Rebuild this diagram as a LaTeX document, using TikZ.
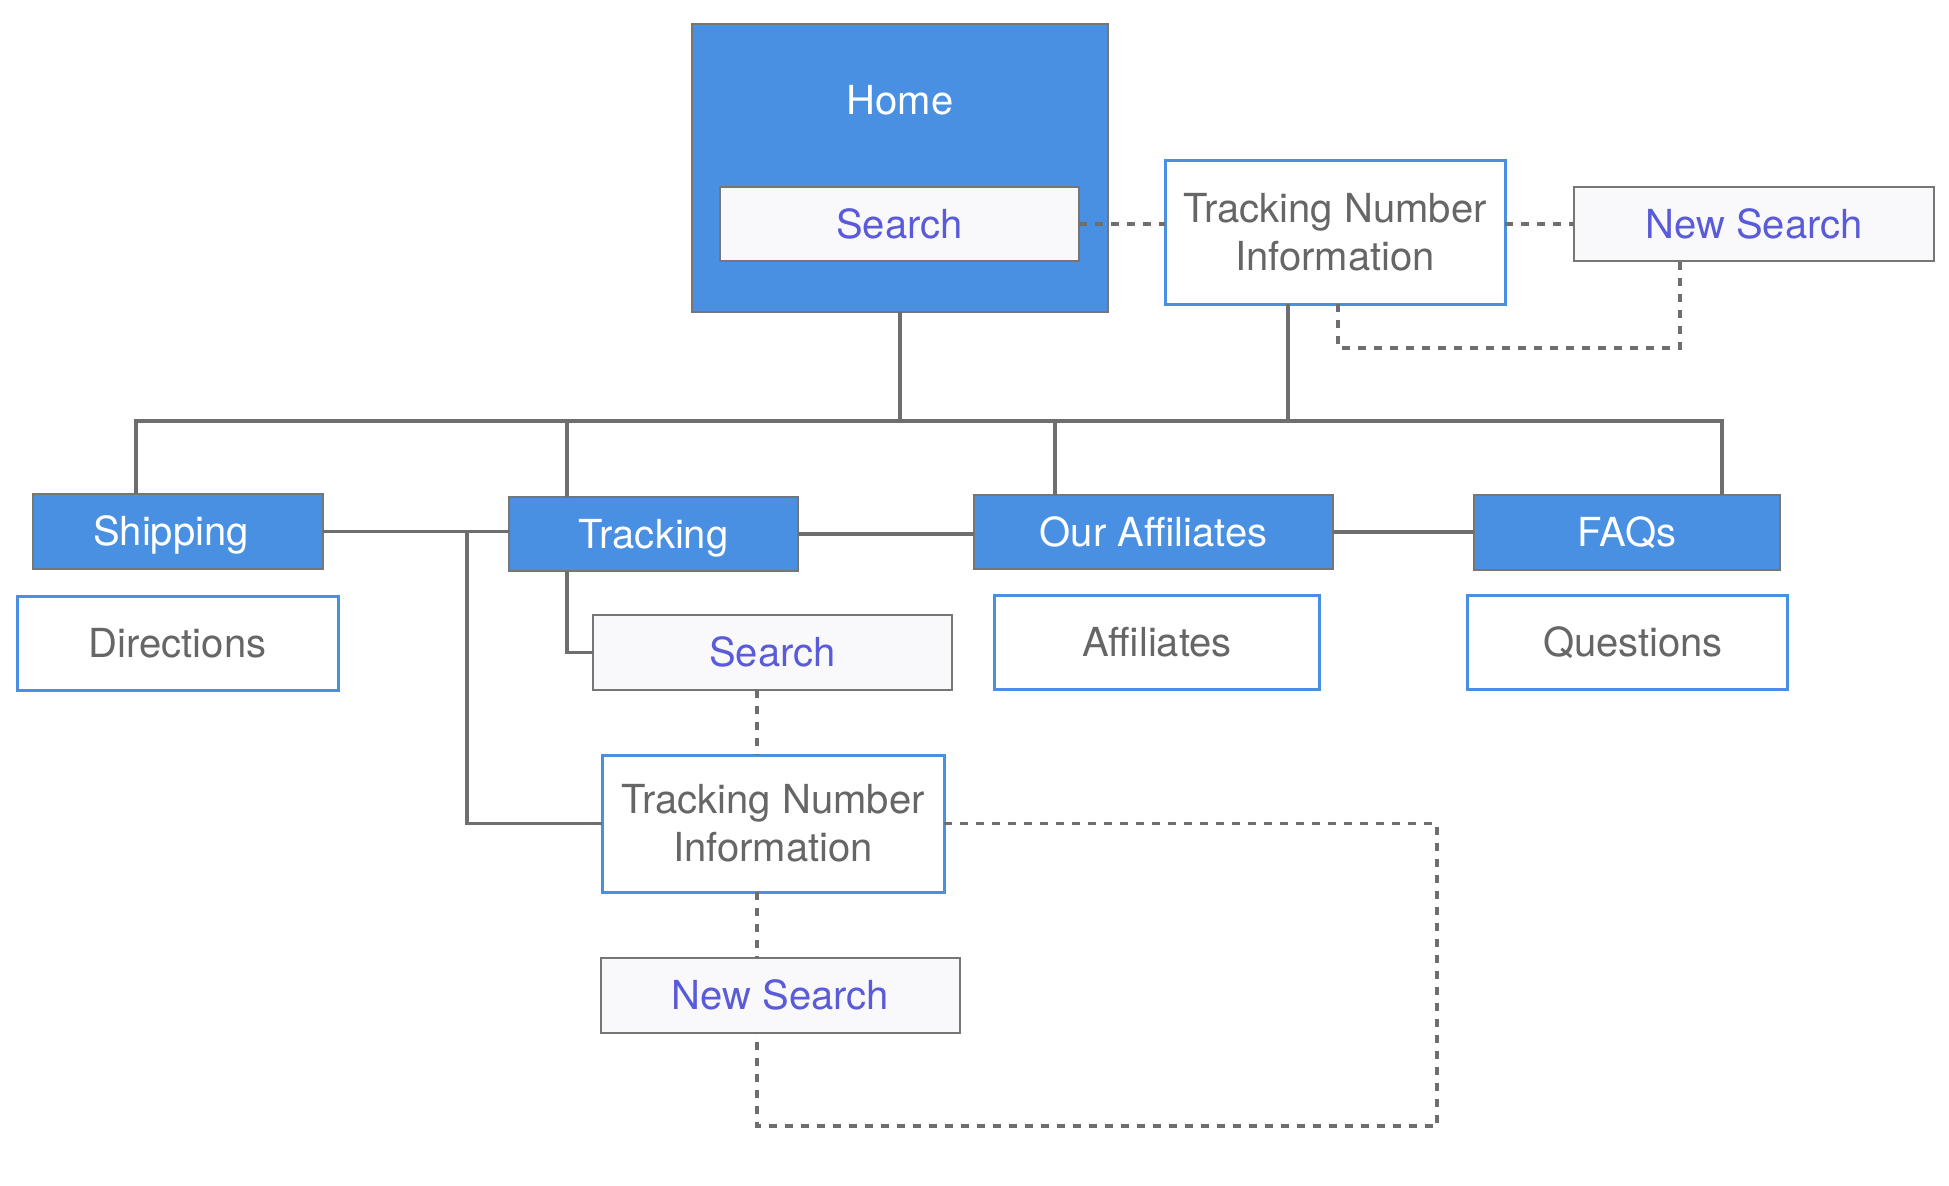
\documentclass[tikz,border=0pt]{standalone}
\usepackage{fontspec}
\setmainfont{TeX Gyre Heros}
\usetikzlibrary{calc}
\definecolor{blueF}{HTML}{4A90E2}
\definecolor{lineG}{HTML}{6E6E6E}
\definecolor{borderG}{HTML}{767676}
\definecolor{txtG}{HTML}{666666}
\definecolor{purp}{HTML}{5A5BD8}
\definecolor{lightF}{HTML}{F9F9FB}
\begin{document}
\begin{tikzpicture}[x=0.5pt,y=-0.5pt,
  base/.style={font=\fontsize{20}{24}\selectfont, inner sep=0pt, outer sep=0pt, align=center},
  one/.style={text height=14.4pt, text depth=0pt},
  bluebox/.style={base, one, fill=blueF, draw=borderG, line width=0.7pt, text=white},
  whitebox/.style={base, fill=white, draw=blueF, line width=1.5pt, text=txtG},
  lightbox/.style={base, one, fill=lightF, draw=borderG, line width=0.7pt, text=purp},
  conn/.style={draw=lineG, line width=1.75pt},
  dotc/.style={draw=lineG, line width=1.75pt, dash pattern=on 4pt off 4pt}]
\useasboundingbox (0,0) rectangle (1949,1185);

% Home
\node[bluebox, minimum width=208pt, minimum height=144pt] (home) at (900,168) {};
\node[base, one, text=white] (homel) at (900,100) {Home};
\node[lightbox, minimum width=179.5pt, minimum height=37pt] (srch1) at (899.5,224) {Search};

% top right
\node[whitebox, minimum width=170pt, minimum height=72pt] (tni) at (1335,232) {Tracking Number\\Information};
\node[lightbox, minimum width=180pt, minimum height=37pt] (ns1) at (1754,224) {New Search};

% second level
\node[bluebox, minimum width=145pt, minimum height=37.5pt] (ship) at (178,531.5) {Shipping\hspace{7pt}};
\node[whitebox, one, minimum width=160.5pt, minimum height=47pt] (dir) at (177.5,643) {Directions};
\node[bluebox, minimum width=144.5pt, minimum height=37pt] (trk) at (653.5,534) {Tracking};
\node[bluebox, minimum width=179.5pt, minimum height=37pt] (aff) at (1153.5,532) {Our Affiliates};
\node[bluebox, minimum width=153pt, minimum height=37.5pt] (faq) at (1627,532.5) {FAQs};
\node[whitebox, one, minimum width=162.5pt, minimum height=47pt] (affs) at (1157,642) {Affiliates};
\node[whitebox, one, minimum width=160pt, minimum height=47pt] (qst) at (1627,642) {\hspace{6pt}Questions};

% lower
\node[lightbox, minimum width=179.5pt, minimum height=37.5pt] (srch2) at (772.5,652.5) {Search};
\node[whitebox, minimum width=171pt, minimum height=68.5pt] (tni2) at (773,823.5) {Tracking Number\\Information};
\node[lightbox, minimum width=179.5pt, minimum height=37.5pt] (ns2) at (780.5,995.5) {New Search};

% bus coordinates
\coordinate (bS) at (136,421);
\coordinate (bT) at (567,421);
\coordinate (bH) at (900,421);
\coordinate (bA) at (1055,421);
\coordinate (bN) at (1288,421);
\coordinate (bF) at (1722,421);
\coordinate (j) at (467,531);
\coordinate (tS) at (567,0);
\coordinate (dL) at (757,0);
\coordinate (lpA) at (1338,348);
\coordinate (lpB) at (1680,348);
\coordinate (lpC) at (1437,1126);

% solid tree
\draw[conn] (ship.north -| bS) -- (bS) -- (bF) -- (faq.north -| bF);
\draw[conn] (home.south) -- (bH);
\draw[conn] (trk.north -| bT) -- (bT);
\draw[conn] (aff.north -| bA) -- (bA);
\draw[conn] (tni.south -| bN) -- ([yshift=-1pt]bN);
\draw[conn] (ship.east) -- (ship.east -| trk.west);
\draw[conn] (trk.east) -- (trk.east -| aff.west);
\draw[conn] (aff.east) -- (aff.east -| faq.west);
\draw[conn] (j) |- (tni2.west);
\draw[conn] (trk.south -| tS) |- (srch2.west);

% dotted links
\draw[dotc] (srch1.east) -- (srch1.east -| tni.west);
\draw[dotc] (ns1.west -| tni.east) -- (ns1.west);
\draw[dotc] (tni.south -| lpA) -- (lpA) -- (lpB) -- (ns1.south -| lpB);
\draw[dotc] (srch2.south -| dL) -- (tni2.north -| dL);
\draw[dotc] (tni2.south -| dL) -- (ns2.north -| dL);
\draw[dotc] (tni2.east) -- (tni2.east -| lpC) -- (lpC) -- (lpC -| dL) -- (ns2.south -| dL);
\end{tikzpicture}
\end{document}
